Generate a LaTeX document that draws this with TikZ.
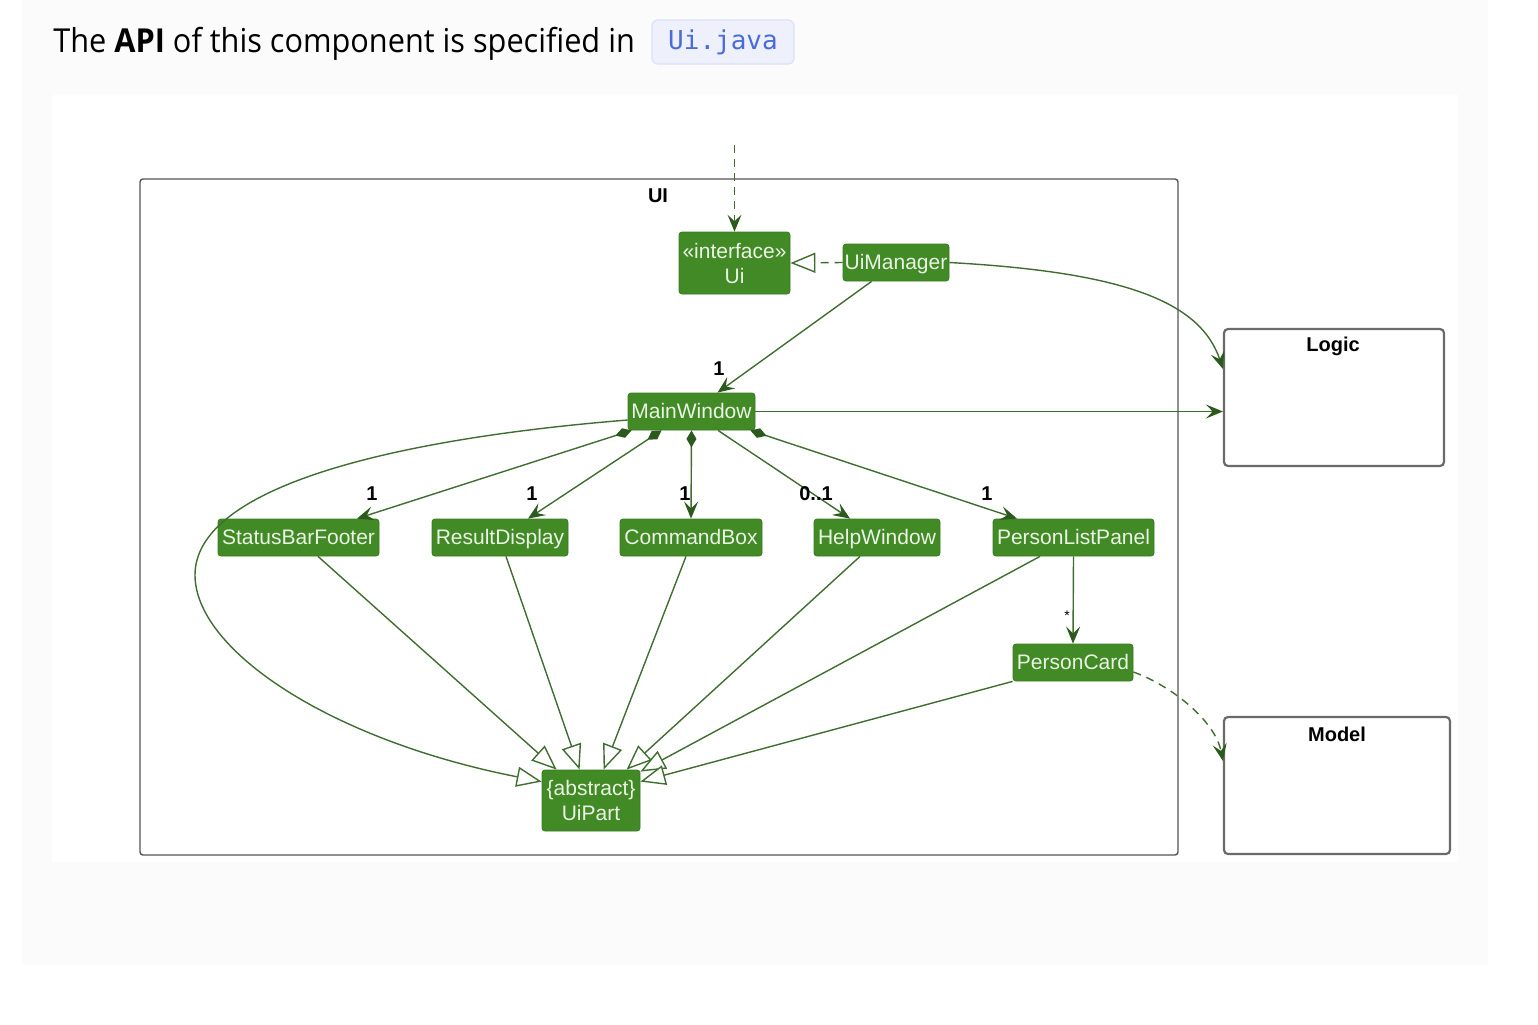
\documentclass[tikz,border=0pt]{standalone}
\usepackage{fontspec}
\setmainfont{Liberation Sans}
\newfontfamily\titlefont[FakeStretch=0.93]{Open Sans}
\newfontfamily\codefont{DejaVu Sans Mono}
\usetikzlibrary{arrows.meta,calc}
\definecolor{panelgray}{HTML}{FBFBFB}
\definecolor{clsfill}{HTML}{428A26}
\definecolor{clsdraw}{HTML}{3A7A22}
\definecolor{clstext}{HTML}{EAF4E4}
\definecolor{conncol}{HTML}{3F6E30}
\definecolor{tipcol}{HTML}{2C5A1E}
\definecolor{codebg}{HTML}{EEF0FC}
\definecolor{codeborder}{HTML}{DDE1F3}
\definecolor{codeblue}{HTML}{4A6BDB}
\definecolor{pkgcol}{HTML}{555555}
\definecolor{boxcol}{HTML}{6A6A6A}
\begin{document}
\begin{tikzpicture}[x=0.5pt,y=-0.5pt,
  cls/.style={draw=clsdraw, fill=clsfill, text=clstext, rounded corners=1.5pt,
    inner sep=0pt, minimum height=18.5pt, align=center,
    font=\fontsize{10.5}{12.5}\selectfont},
  one/.style={text height=7.6pt, text depth=1pt},
  conn/.style={draw=conncol, line width=0.7pt},
  vee/.tip={Stealth[length=8.5pt,width=7pt,inset=3.4pt,color=tipcol]},
  inh/.tip={Triangle[length=12.5pt,width=10pt,fill=white,color=conncol]},
  cdiam/.tip={Diamond[length=8.5pt,width=5pt,color=tipcol]},
  mult/.style={font=\bfseries\fontsize{10}{12}\selectfont, text=black, inner sep=0pt},
  cmpbox/.style={draw=boxcol, line width=1.1pt, rounded corners=2pt, fill=white},
  cmpttl/.style={font=\bfseries\fontsize{10}{12}\selectfont, inner sep=0pt}
]
\useasboundingbox (0,0) rectangle (1538,1024);
\fill[white] (0,0) rectangle (1538,1024);
\fill[panelgray] (22,0) rectangle (1488,965);
\fill[white] (52,95) rectangle (1458,862);

% title
\node[anchor=base west, inner sep=0pt, font=\titlefont\fontsize{16.5}{20}\selectfont] (title) at (53,52)
  {The \textbf{API} of this component is specified in};
\node[fill=codebg, draw=codeborder, line width=0.6pt, rounded corners=3pt, minimum width=71pt,
  minimum height=22pt, inner sep=0pt, text=codeblue, font=\codefont\fontsize{13}{15}\selectfont]
  (code) at (723,42) {Ui.java};

% package UI
\node[draw=pkgcol, line width=0.7pt, rounded corners=1.5pt, minimum width=519pt, minimum height=338pt, inner sep=0pt]
  (uipkg) at (659,517) {};
\node[cmpttl] (uittl) at (658,196) {UI};

% components Logic and Model
\node[cmpbox, minimum width=110pt, minimum height=68.5pt, inner sep=0pt] (logic) at (1334,397.5) {};
\node[cmpttl] (logicttl) at (1333,346) {Logic};
\node[cmpbox, minimum width=113pt, minimum height=68.5pt, inner sep=0pt] (model) at (1337,785.5) {};
\node[cmpttl] (modelttl) at (1337,734) {Model};

% classes
\node[cls, minimum width=55.5pt, minimum height=31pt] (ui) at (734.5,263) {«interface»\\Ui};
\node[cls, one, minimum width=53pt] (uimgr) at (896,262.5) {UiManager};
\node[cls, one, minimum width=63.5pt] (mw) at (691.5,411.5) {MainWindow};
\node[cls, one, minimum width=80.5pt] (sbf) at (298.5,537.5) {StatusBarFooter};
\node[cls, one, minimum width=68pt] (rd) at (500,537.5) {ResultDisplay};
\node[cls, one, minimum width=71pt] (cb) at (691,537.5) {CommandBox};
\node[cls, one, minimum width=63pt] (hw) at (877,537.5) {HelpWindow};
\node[cls, one, minimum width=80.5pt] (plp) at (1073.5,537.5) {PersonListPanel};
\node[cls, one, minimum width=60pt] (pc) at (1073,662.5) {PersonCard};
\node[cls, minimum width=49pt, minimum height=30.5pt] (uipart) at (591,800.5) {\{abstract\}\\UiPart};

% external dependency into Ui
\coordinate (ext) at (734.5,145);
\draw[conn, dash pattern=on 4pt off 3pt, -vee] (ext) -- (ui.north);

% realization UiManager -> Ui
\draw[conn, dash pattern=on 4pt off 3pt, -inh] (uimgr.west) -- (ui.east);

% UiManager -> MainWindow
\draw[conn, -vee] ($(uimgr.south west)+(29,0)$) -- ($(mw.north)+(26,0)$);
\node[mult] (m0) at (719,369) {1};

% UiManager -> Logic
\draw[conn, -vee] (uimgr.east) .. controls (1120,272) and (1200,300) .. ($(logic.north west)+(0,41)$);
% MainWindow -> Logic
\draw[conn, -vee] (mw.east) -- (mw.east -| logic.west);

% compositions
\draw[conn, cdiam-vee] ($(mw.south west)+(4,0)$) -- ($(sbf.north)+(58.5,0)$);
\draw[conn, cdiam-vee] ($(mw.south west)+(34,0)$) -- ($(rd.north)+(28,0)$);
\draw[conn, cdiam-vee] (mw.south) -- (cb.north);
\draw[conn, -vee] ($(mw.south)+(26.5,0)$) -- ($(hw.north)+(-27,0)$);
\draw[conn, cdiam-vee] ($(mw.south east)+(-5,0)$) -- ($(plp.north)+(-56.5,0)$);
\node[mult] (m1) at (372,494) {1};
\node[mult] (m2) at (532,494) {1};
\node[mult] (m3) at (685,494) {1};
\node[mult] (m4) at (816,494) {0..1};
\node[mult] (m5) at (987,494) {1};

% PersonListPanel -> PersonCard
\draw[conn, -vee] (plp.south) -- (pc.north);
\node[mult, font=\fontsize{7}{8}\selectfont] (m6) at (1067,616) {*};

% inheritance to UiPart
\draw[conn, -inh] ($(sbf.south)+(19.5,0)$) -- ($(uipart.north west)+(15,0)$);
\draw[conn, -inh] ($(rd.south)+(6,0)$) -- ($(uipart.north west)+(38,0)$);
\draw[conn, -inh] ($(cb.south)+(-5,0)$) -- ($(uipart.north west)+(62,0)$);
\draw[conn, -inh] ($(hw.south)+(-17,0)$) -- ($(uipart.north west)+(85,0)$);
\draw[conn, -inh] ($(plp.south)+(-33.5,0)$) -- ($(uipart.north east)+(0,2)$);
\draw[conn, -inh] (pc.south west) -- ($(uipart.north east)+(0,12)$);
\coordinate (bend) at (195,575);
\draw[conn, -inh] ($(mw.west)+(0,8.5)$) .. controls (380,440) and (195,490) .. (bend)
  .. controls (195,650) and (330,740) .. ($(uipart.north west)+(0,12)$);

% PersonCard -> Model
\draw[conn, dash pattern=on 4pt off 3pt, -vee] ($(pc.east)+(0,9.5)$) .. controls (1170,685) and (1215,720) .. ($(model.north west)+(0,45)$);
\end{tikzpicture}
\end{document}
